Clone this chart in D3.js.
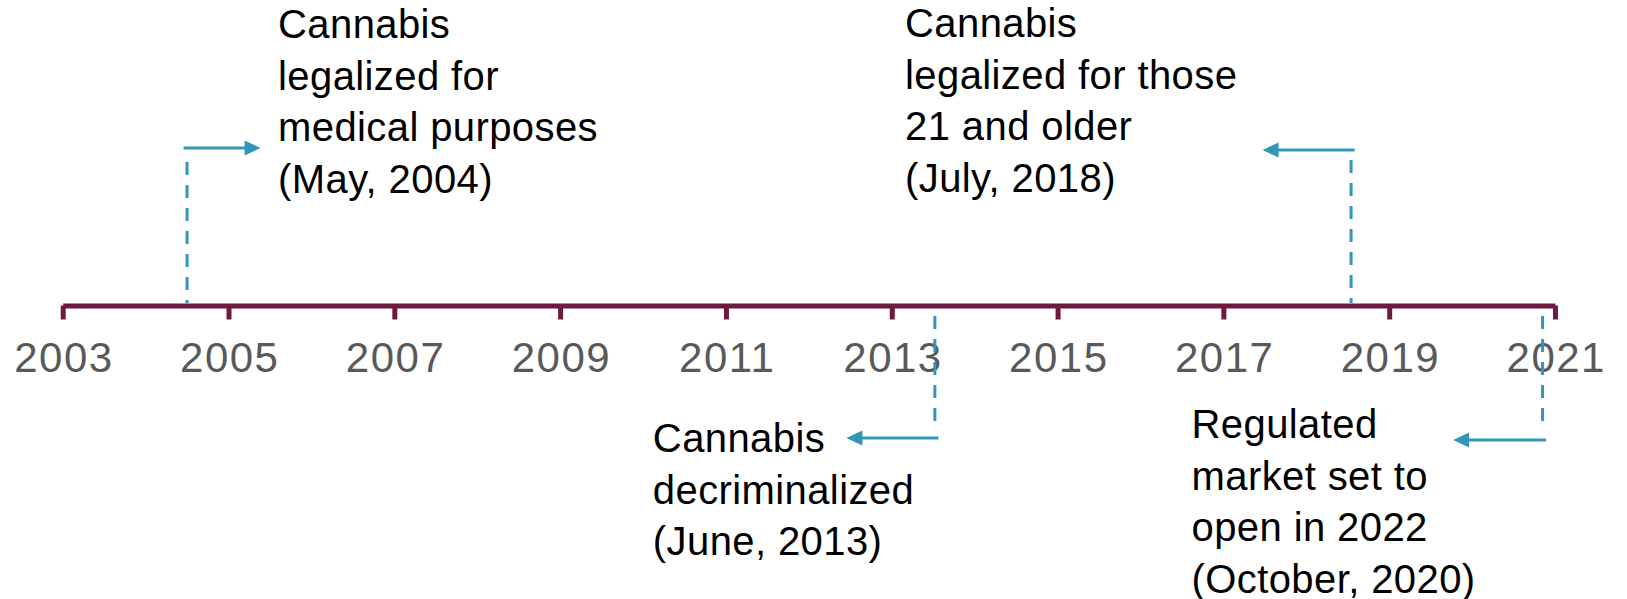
<!DOCTYPE html>
<html>
<head>
<meta charset="utf-8">
<script src="https://cdn.jsdelivr.net/npm/d3@7"></script>
<style>
  html, body { margin: 0; padding: 0; background: #fff; }
  svg { display: block; font-family: "Liberation Sans", Arial, sans-serif; }
</style>
</head>
<body>
<div class="container"></div>
<script>
// timeline data
var tickYears = [2003, 2005, 2007, 2009, 2011, 2013, 2015, 2017, 2019, 2021];
var eventYears = [2004.5, 2018.54, 2013.52, 2020.85];
var eventLabels = [
  ["Cannabis", "legalized for", "medical purposes", "(May, 2004)"],
  ["Cannabis", "legalized for those", "21 and older", "(July, 2018)"],
  ["Cannabis", "decriminalized", "(June, 2013)"],
  ["Regulated", "market set to", "open in 2022", "(October, 2020)"]
];

const WIDTH = 1627;
const HEIGHT = 599;
const AXIS_Y = 305.5;
const LINE_H = 51.5;
const MAROON = "#6d1a41";
const BLUE = "#3196b8";

// where each callout sits relative to its event
var layout = [
  { side: "above", dashEnd: 162, arrowY: 148, dir: 1,  len: 77, textDx: 91,   textY: 38 },
  { side: "above", dashEnd: 160, arrowY: 150, dir: -1, len: 92, textDx: -446, textY: 37 },
  { side: "below", dashEnd: 421, arrowY: 438, dir: -1, len: 92, textDx: -282, textY: 452 },
  { side: "below", dashEnd: 421, arrowY: 440, dir: -1, len: 93, textDx: -351, textY: 438 }
];

var translate = function (x, y) {
  return "translate(" + x + "," + y + ")";
};

var xScale = d3.scaleLinear()
  .domain([2003, 2021])
  .range([62.7, 1555]);

var svg;

var loadChart = function () {
  svg = d3.select("body").append("svg")
    .attr("width", WIDTH)
    .attr("height", HEIGHT);

  createAxis();
  createEvents();
};

var createAxis = function () {
  var xAxis = d3.axisBottom(xScale)
    .tickValues(tickYears)
    .tickFormat(d3.format("d"))
    .tickSize(14)
    .tickSizeOuter(0);

  var g = svg.append("g")
    .attr("transform", translate(0, AXIS_Y))
    .call(xAxis);

  g.select(".domain")
    .attr("stroke", MAROON)
    .attr("stroke-width", 5);

  g.selectAll(".tick line")
    .attr("stroke", MAROON)
    .attr("stroke-width", 5);

  g.selectAll(".tick text")
    .attr("y", 66)
    .attr("dy", 0)
    .attr("dx", 0.75)
    .attr("fill", "#595959")
    .style("font-size", "42px")
    .style("letter-spacing", "1.5px")
    .style("font-family", "'Liberation Sans', Arial, sans-serif");
};

var createEvents = function () {
  var groups = svg.selectAll(".event")
    .data(eventYears)
    .enter().append("g")
    .attr("class", "event");

  // dashed leader from the axis
  groups.append("line")
    .attr("x1", function (d) { return xScale(d); })
    .attr("x2", function (d) { return xScale(d); })
    .attr("y1", function (d, i) { return layout[i].dashEnd; })
    .attr("y2", function (d, i) { return layout[i].side == "above" ? AXIS_Y - 2.5 : AXIS_Y + 9; })
    .attr("stroke", BLUE)
    .attr("stroke-width", 3)
    .attr("stroke-dasharray", "13,10");

  // horizontal arrow shaft
  groups.append("line")
    .attr("x1", function (d, i) { return xScale(d) - layout[i].dir * 3.5; })
    .attr("x2", function (d, i) {
      var l = layout[i];
      return xScale(d) - l.dir * 3.5 + l.dir * (l.len - 12);
    })
    .attr("y1", function (d, i) { return layout[i].arrowY; })
    .attr("y2", function (d, i) { return layout[i].arrowY; })
    .attr("stroke", BLUE)
    .attr("stroke-width", 3);

  // arrow head
  groups.append("path")
    .attr("d", function (d, i) {
      var l = layout[i];
      var tip = xScale(d) - l.dir * 3.5 + l.dir * l.len;
      var back = tip - l.dir * 16;
      return "M" + tip + "," + l.arrowY + "L" + back + "," + (l.arrowY - 7.5) +
        "L" + back + "," + (l.arrowY + 7.5) + "Z";
    })
    .attr("fill", BLUE);

  // labels
  var text = groups.append("text")
    .attr("fill", "#000")
    .style("font-size", "40px")
    .style("letter-spacing", "0.4px")
    .attr("transform", function (d, i) {
      return translate(xScale(d) + layout[i].textDx, layout[i].textY);
    });

  text.selectAll("tspan")
    .data(function (d, i) { return eventLabels[i]; })
    .enter().append("tspan")
    .attr("x", 0)
    .attr("y", function (d, j) { return j * LINE_H; })
    .text(function (d) { return d; });
};

window.onload = loadChart;
</script>
</body>
</html>
